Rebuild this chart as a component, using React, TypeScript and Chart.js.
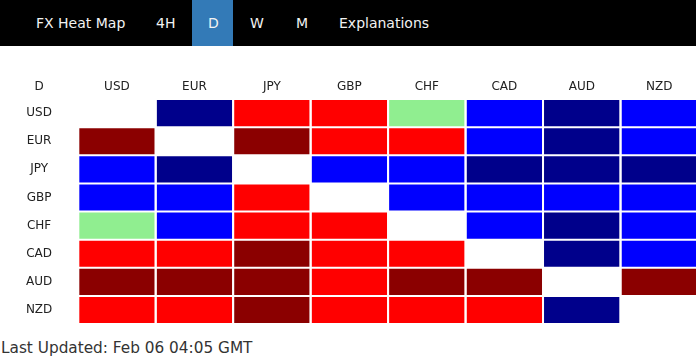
import React, { useEffect, useRef } from "react";
import { Chart, registerables } from "chart.js";

Chart.register(...registerables);

const currencies = ["USD", "EUR", "JPY", "GBP", "CHF", "CAD", "AUD", "NZD"];
const periodLabel = "D";
const tabs = ["FX Heat Map", "4H", "D", "W", "M", "Explanations"];
const updatedText = "Last Updated: Feb 06 04:05 GMT";

// strength levels: 2 strong up, 1 up, 0 neutral, -1 down, -2 strong down, null = same currency
const rowUSD = [null, -2, 1, 1, 0, -1, -2, -1];
const rowEUR = [2, null, 2, 1, 1, -1, -2, -1];
const rowJPY = [-1, -2, null, -1, -1, -2, -2, -2];
const rowGBP = [-1, -1, 1, null, -1, -1, -1, -1];
const rowCHF = [0, -1, 1, 1, null, -1, -2, -1];
const rowCAD = [1, 1, 2, 1, 1, null, -2, -1];
const rowAUD = [2, 2, 2, 1, 2, 2, null, 2];
const rowNZD = [1, 1, 2, 1, 1, 1, -2, null];
const matrix = [rowUSD, rowEUR, rowJPY, rowGBP, rowCHF, rowCAD, rowAUD, rowNZD];

const levelColor = (v: number | null) => {
  if (v === null) return "#ffffff";
  if (v >= 2) return "#8b0000";
  if (v === 1) return "#ff0000";
  if (v === 0) return "#90ee90";
  if (v === -1) return "#0000ff";
  return "#00008b";
};

const FONT = "'DejaVu Sans', Verdana, sans-serif";
const LABEL_COLOR = "#222";

const tabPos: Record<string, number> = {
  "FX Heat Map": 36,
  "4H": 156,
  D: 208,
  W: 250,
  M: 296,
  Explanations: 339,
};

export default function App() {
  const ref = useRef<HTMLCanvasElement | null>(null);

  useEffect(() => {
    if (!ref.current) return;
    const labelPlugin = {
      id: "rowLabels",
      afterDraw(chart: any) {
        const ys = chart.scales.y;
        const ctx = chart.ctx;
        const cx = (ys.left + ys.right) / 2;
        ctx.save();
        ctx.font = `12px ${FONT}`;
        ctx.fillStyle = LABEL_COLOR;
        ctx.textAlign = "center";
        ctx.textBaseline = "middle";
        ctx.fillText(periodLabel, cx, chart.chartArea.top - 12);
        currencies.forEach((c, i) => {
          ctx.fillText(c, cx, ys.getPixelForValue(i + 0.5));
        });
        ctx.restore();
      },
    };
    const chart = new Chart(ref.current, {
      type: "bar",
      data: {
        labels: currencies,
        datasets: matrix.map((row, r) => ({
          label: currencies[r],
          data: row.map(() => 1),
          backgroundColor: row.map((v) => levelColor(v)),
          borderColor: "#ffffff",
          borderWidth: { top: 1, bottom: 1, left: 0, right: 0 },
          borderSkipped: false,
          inflateAmount: 0,
          categoryPercentage: 1,
          barPercentage: 0.975,
        })),
      },
      options: {
        animation: false,
        responsive: true,
        maintainAspectRatio: false,
        layout: { padding: { top: 0, bottom: 12, left: 0, right: 0 } },
        plugins: {
          legend: { display: false },
          tooltip: { enabled: false },
        },
        scales: {
          x: {
            type: "category",
            position: "top",
            stacked: true,
            grid: { display: false, drawTicks: false },
            border: { display: false },
            ticks: {
              padding: 5,
              color: LABEL_COLOR,
              font: { family: FONT, size: 12 },
            },
            afterFit: (axis: any) => {
              axis.height = 53;
            },
          },
          y: {
            type: "linear",
            stacked: true,
            reverse: true,
            min: 0,
            max: currencies.length,
            grid: { display: false, drawTicks: false },
            border: { display: false },
            ticks: { display: false },
            afterFit: (axis: any) => {
              axis.width = 78.2;
            },
          },
        },
      },
      plugins: [labelPlugin],
    });
    return () => chart.destroy();
  }, []);

  return (
    <div
      style={{
        position: "fixed",
        left: 0,
        top: 0,
        width: 696,
        height: 360,
        overflow: "hidden",
        background: "#fff",
        fontFamily: FONT,
      }}
    >
      <div style={{ position: "absolute", left: 0, top: 0, width: 696, height: 46, background: "#000" }}>
        <div style={{ position: "absolute", left: 192, top: 0, width: 41, height: 46, background: "#337ab7" }} />
        {tabs.map((t) => (
          <span
            key={t}
            style={{
              position: "absolute",
              left: tabPos[t],
              top: 0,
              lineHeight: "46px",
              fontSize: 14,
              color: "#f2f2f2",
              whiteSpace: "nowrap",
            }}
          >
            {t}
          </span>
        ))}
      </div>
      <div style={{ position: "absolute", left: 0, top: 46, width: 698, height: 290 }}>
        <canvas ref={ref} />
      </div>
      <div
        style={{
          position: "absolute",
          left: 1,
          top: 338,
          fontSize: 15.3,
          lineHeight: "20px",
          color: "#333",
          whiteSpace: "nowrap",
        }}
      >
        {updatedText}
      </div>
    </div>
  );
}
